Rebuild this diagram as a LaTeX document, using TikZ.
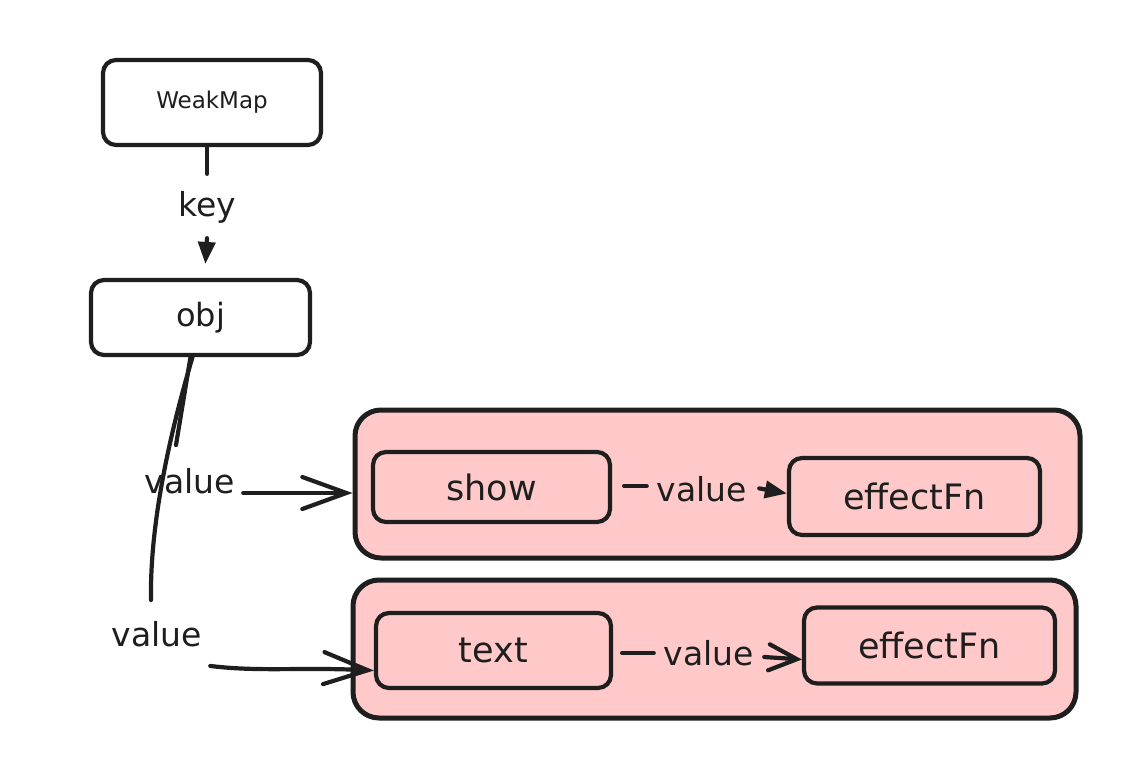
\documentclass[tikz,border=0pt]{standalone}
\usepackage{fontspec}
\setmainfont{DejaVu Sans}
\usetikzlibrary{arrows.meta}
\definecolor{ink}{HTML}{1E1E1E}
\definecolor{pinkfill}{HTML}{FFC9C9}
\tikzset{
  box/.style={draw=ink, line width=4.2pt, rounded corners=13pt, inner sep=0pt, text=ink},
  group/.style={draw=ink, fill=pinkfill, line width=5pt, rounded corners=26pt, inner sep=0pt},
  conn/.style={draw=ink, line width=4.2pt, line cap=round, line join=round},
  lbl/.style={text=ink, inner sep=0pt, font=\fontsize{33}{36}\selectfont},
  filltip/.style={-{Triangle[length=22pt,width=17pt]}},
  opentip/.style={-{Straight Barb[length=44pt,width=32pt,line cap=round]}},
  smalltip/.style={-{Straight Barb[length=28pt,width=26pt,line cap=round]}}
}
\begin{document}
\begin{tikzpicture}[x=1pt,y=-1pt]
\useasboundingbox (0,0) rectangle (1140,760);
\fill[white] (0,0) rectangle (1140,760);

% top boxes
\node[box, minimum width=218pt, minimum height=85pt, font=\fontsize{23}{26}\selectfont] (wm) at (212,102.5) {WeakMap};
\node[box, minimum width=219pt, minimum height=75pt, font=\fontsize{32}{36}\selectfont] (obj) at (200.5,317.5) {obj};

% groups
\node[group, minimum width=725pt, minimum height=148pt] (g1) at (717.5,484) {};
\node[group, minimum width=723pt, minimum height=138pt] (g2) at (714.5,649) {};

% inner boxes
\node[box, minimum width=237pt, minimum height=70pt, font=\fontsize{35}{38}\selectfont] (show) at (491.5,487) {show};
\node[box, minimum width=251pt, minimum height=77pt, font=\fontsize{35}{38}\selectfont] (ef1) at (914.5,496.5) {effectFn};
\node[box, minimum width=235pt, minimum height=75pt, font=\fontsize{35}{38}\selectfont] (txt) at (493.5,650.5) {text};
\node[box, minimum width=251pt, minimum height=76pt, font=\fontsize{35}{38}\selectfont] (ef2) at (929.5,645.5) {effectFn};

% key arrow
\node[lbl, font=\fontsize{33}{36}\selectfont, inner xsep=4pt, inner ysep=15pt] (key) at (207,207) {key};
\draw[conn] ([xshift=-5pt]wm.south) -- ([yshift=2pt]key.north);
\draw[conn, filltip, shorten >=14pt] (key.south) -- ([xshift=4pt]obj.north);

% obj -> group 1
\node[lbl, inner xsep=8pt, inner ysep=5pt] (va) at (190,481) {value};
\coordinate (aEnd) at (176,445);
\draw[conn] ([xshift=-10pt]obj.south) -- (aEnd);
\draw[conn, opentip] ([yshift=-12pt]va.east) -- ([yshift=-9pt]g1.west);

% obj -> text
\node[lbl, inner xsep=8pt, inner ysep=5pt] (vb) at (157,634) {value};
\coordinate (bEnd) at (151,600);
\draw[conn] ([xshift=-8pt]obj.south) .. controls (162,460) and (150,540) .. (bEnd);
\draw[conn, opentip] ([yshift=-14pt]vb.south east) .. controls (260,672) and (300,667) .. ([yshift=-20pt]txt.west);

% show -> effectFn
\node[lbl, inner xsep=10pt] (vr1) at (702,489) {value};
\draw[conn, shorten <=12pt] ([yshift=1pt]show.east) -- ([yshift=3pt]vr1.west);
\draw[conn, filltip, shorten <=2pt] ([yshift=1pt]vr1.east) -- ([yshift=3pt]ef1.west);

% text -> effectFn
\node[lbl, inner xsep=10pt] (vr2) at (709,653) {value};
\draw[conn, shorten <=9pt] ([yshift=-2.5pt]txt.east) -- (vr2.west);
\draw[conn, smalltip] ([yshift=-4pt]vr2.east) -- ([yshift=-14pt]ef2.west);
\end{tikzpicture}
\end{document}
